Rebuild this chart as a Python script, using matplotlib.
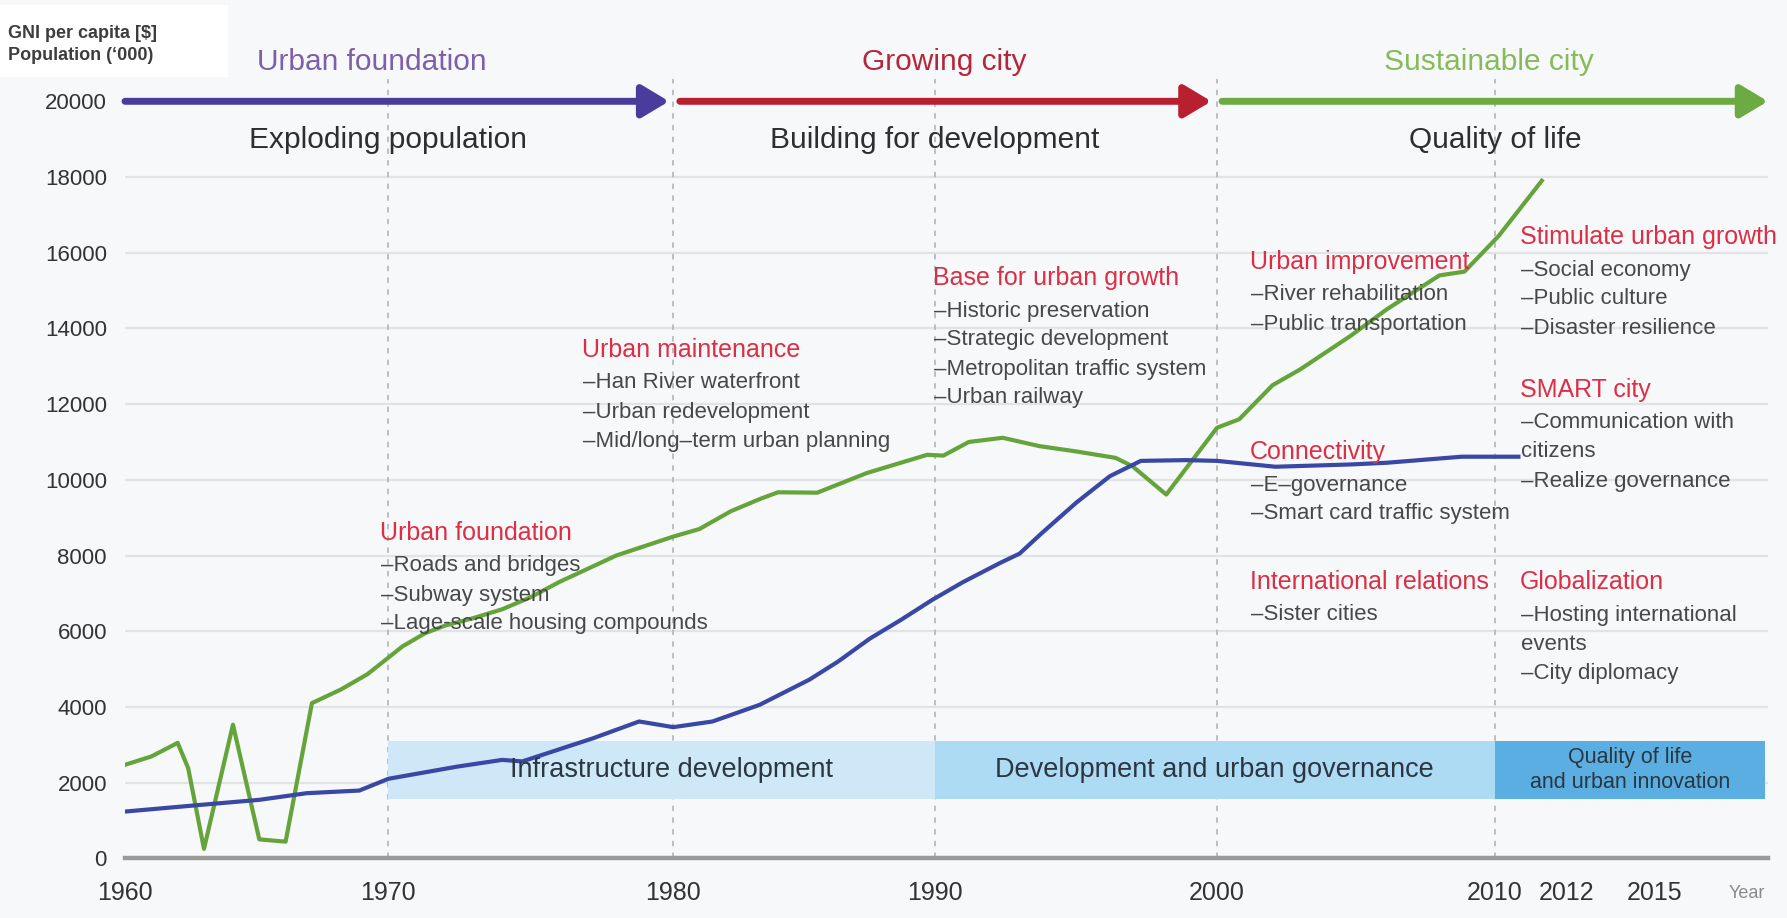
import numpy as np
import matplotlib
matplotlib.use("Agg")
import matplotlib.pyplot as plt
from matplotlib.patches import Rectangle

plt.rcParams['font.family'] = ['Liberation Sans', 'DejaVu Sans']

# ---------------- data ----------------
gni_years = [1960, 1961, 1962, 1962.4, 1963, 1964.1, 1965.1, 1966.1, 1967.1, 1968.2,
             1969.2, 1970, 1970.5, 1971.3, 1972, 1973, 1974, 1975, 1976, 1977,
             1978, 1979, 1980, 1981, 1982.2, 1983.3, 1984, 1985.5, 1987.4, 1989.7,
             1990.3, 1991.2, 1992.4, 1993.7, 1995, 1996.4, 1997, 1998.2, 2000, 2000.8,
             2002, 2003, 2004.8, 2006.1, 2008, 2008.9, 2010.1, 2011.3]
gni_values = [2470, 2690, 3050, 2380, 250, 3530, 500, 440, 4100, 4460,
              4860, 5300, 5600, 5950, 6150, 6350, 6580, 6900, 7300, 7650,
              8000, 8250, 8500, 8700, 9170, 9490, 9670, 9660, 10180, 10660,
              10640, 11000, 11110, 10890, 10750, 10580, 10360, 9610, 11375, 11600,
              12500, 12920, 13800, 14500, 15400, 15500, 16440, 17900]

pop_years = [1960, 1962.85, 1965.1, 1966.9, 1968.9, 1970, 1972.4, 1974, 1974.7, 1977.2,
             1978.8, 1980, 1981.5, 1983.3, 1985.2, 1986.3, 1987.5, 1988.7, 1989.9, 1991,
             1992.3, 1993, 1993.8, 1995, 1996.2, 1997.3, 1998.9, 2000, 2002.1, 2004.8,
             2006.1, 2008.8, 2010.65]
pop_values = [1235, 1410, 1545, 1720, 1790, 2100, 2420, 2600, 2560, 3175,
              3615, 3465, 3615, 4055, 4720, 5200, 5800, 6300, 6830, 7300,
              7800, 8050, 8600, 9390, 10095, 10500, 10520, 10500, 10345, 10405,
              10450, 10610, 10610]

x_ticks = [1960, 1970, 1980, 1990, 2000, 2010, 2012, 2015]
y_ticks = list(range(0, 20001, 2000))
decade_lines = [1970, 1980, 1990, 2000, 2010]

phase_names = ["Urban foundation", "Growing city", "Sustainable city"]
phase_spans = [(1960, 1979.85), (1980.25, 1999.8), (2000.18, 2018.84)]
phase_themes = ["Exploding population", "Building for development", "Quality of life"]
theme_years = [1970, 1990, 2010]

band_labels = ["Infrastructure development", "Development and urban governance",
               "Quality of life\nand urban innovation"]
band_spans = [(1970, 1990), (1990, 2010), (2010, 2018.75)]
band_range = (1560, 3110)

policy_heads = ["Urban foundation", "Urban maintenance", "Base for urban growth",
                "Urban improvement", "Connectivity", "International relations",
                "Stimulate urban growth", "SMART city", "Globalization"]
policy_items = [
    ["–Roads and bridges", "–Subway system", "–Lage-scale housing compounds"],
    ["–Han River waterfront", "–Urban redevelopment", "–Mid/long–term urban planning"],
    ["–Historic preservation", "–Strategic development",
     "–Metropolitan traffic system", "–Urban railway"],
    ["–River rehabilitation", "–Public transportation"],
    ["–E–governance", "–Smart card traffic system"],
    ["–Sister cities"],
    ["–Social economy", "–Public culture", "–Disaster resilience"],
    ["–Communication with", "citizens", "–Realize governance"],
    ["–Hosting international", "events", "–City diplomacy"],
]

# ---------------- layout ----------------
W, H = 1787, 918
BG = '#f7f8fa'
fig = plt.figure(figsize=(W / 100, H / 100), dpi=100, facecolor=BG)


def fx(x):
    return x / W


def fy(y):
    return 1 - y / H


Y0, Y_TOP = 858.3, 25.6
X0, X1 = 125, 1768
PX_PER_UNIT = (Y0 - Y_TOP) / 22000
ax = fig.add_axes([fx(X0), fy(Y0), (X1 - X0) / W, (Y0 - Y_TOP) / H])
ax.set_facecolor('none')

# piecewise (hand-drawn) year axis
anc_year = np.array([1900, 1960, 1970, 1980, 1990, 2000, 2010, 2012, 2015, 2019, 2100.0])
anc_pos = np.array([125 - 60 * 26.33, 125, 388.3, 673.3, 935, 1217, 1495, 1567, 1655,
                    1772.6, 1772.6 + 81 * 29.4])


def fwd(x):
    return np.interp(x, anc_year, anc_pos)


def inv(p):
    return np.interp(p, anc_pos, anc_year)


def yv(py):
    return (Y0 - py) / PX_PER_UNIT


ax.set_xscale('function', functions=(fwd, inv))
ax.set_xlim(1960, float(inv(X1)))
ax.set_ylim(0, 22000)

# grid
for v in y_ticks[1:-1]:
    ax.axhline(v, color='#e2e3e5', lw=1.6, zorder=0)
for d in decade_lines:
    ax.plot([d, d], [0, 20600], color='#b9b9b9', lw=1.3, ls=(0, (3, 3.5)), zorder=1,
            clip_on=False)

# bands
band_colors = ['#cfe8f8', '#addbf4', '#5aaee1']
band_fs = [19.5, 19.5, 15.5]
for (a, b), c in zip(band_spans, band_colors):
    ax.add_patch(Rectangle((a, band_range[0]), b - a, band_range[1] - band_range[0],
                           facecolor=c, edgecolor='none', zorder=1))
mids = [float(inv(672)), float(inv(1214)), float(inv(1630))]
for m, lab, fs in zip(mids, band_labels, band_fs):
    ax.text(m, sum(band_range) / 2, lab, ha='center', va='center', fontsize=fs,
            color='#2b3640', zorder=4, linespacing=1.2, multialignment='center')

# lines
ax.plot(gni_years, gni_values, color='#65a43b', lw=3.0, zorder=3)
ax.plot(pop_years, pop_values, color='#3848a4', lw=3.0, zorder=3)

# phase arrows
arrow_cols = ['#4a3c9c', '#b8202f', '#6cab43']
label_cols = ['#7e5fa9', '#b5263a', '#86bb5a']
for (a, b), c in zip(phase_spans, arrow_cols):
    ax.annotate('', xy=(b, 20000), xytext=(a, 20000),
                arrowprops=dict(arrowstyle='-|>,head_length=0.75,head_width=0.45',
                                lw=5, color=c, shrinkA=0, shrinkB=0, mutation_scale=22),
                annotation_clip=False, zorder=5)
name_x = [372, 944, 1489]
for nx, name, c in zip(name_x, phase_names, label_cols):
    fig.text(fx(nx), fy(62), name, ha='center', va='center', fontsize=21.5, color=c)
for ty, th in zip(theme_years, phase_themes):
    ax.text(ty, yv(140), th, ha='center', va='center', fontsize=21.5, color='#2e2e2e')

# axes styling
for s in ['top', 'right', 'left']:
    ax.spines[s].set_visible(False)
ax.spines['bottom'].set_color('#9a9a9a')
ax.spines['bottom'].set_linewidth(3.2)
ax.set_xticks(x_ticks)
ax.set_xticklabels([str(t) for t in x_ticks])
ax.set_yticks(y_ticks)
ax.set_yticklabels([str(t) for t in y_ticks])
ax.tick_params(axis='x', length=0, pad=16, labelsize=18, labelcolor='#333333')
ax.tick_params(axis='y', length=0, pad=13, labelsize=16, labelcolor='#333333')
fig.text(fx(1747), fy(893), 'Year', ha='center', va='center', fontsize=13, color='#8a8a8a')

# policy annotations
block_pos = [(380, 533), (581.7, 350), (933.3, 278), (1250, 262), (1250, 452),
             (1250, 582), (1520, 237), (1520, 390), (1520, 582)]
for (bx, by), head, items in zip(block_pos, policy_heads, policy_items):
    fig.text(fx(bx), fy(by), head, ha='left', va='center', fontsize=18, color='#dc2f45')
    for i, it in enumerate(items):
        fig.text(fx(bx + 1), fy(by + 33 + 29 * i), it, ha='left', va='center',
                 fontsize=16, color='#484848')

# legend box (top-left)
fig.patches.append(Rectangle((0, fy(77)), fx(228), fy(5) - fy(77), transform=fig.transFigure,
                             facecolor='white', edgecolor='none', zorder=10))
fig.text(fx(8), fy(33), 'GNI per capita [$]', ha='left', va='center', fontsize=13,
         fontweight='bold', color='#3d3d3d', zorder=11)
fig.text(fx(8), fy(56), 'Population (‘000)', ha='left', va='center', fontsize=13,
         fontweight='bold', color='#3d3d3d', zorder=11)

fig.savefig('out.png', dpi=100, facecolor=BG)
